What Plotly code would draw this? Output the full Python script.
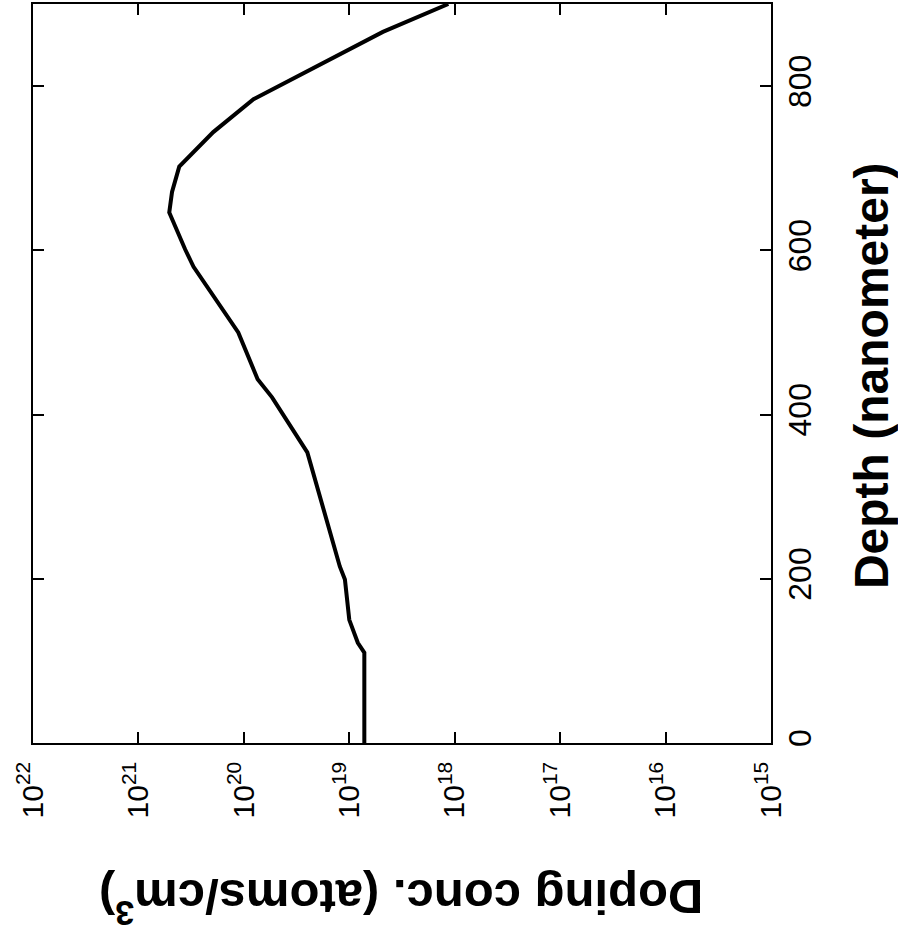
import plotly.graph_objects as go

# Data read from the (rotated) reference chart
depth_nm = [0, 110, 122, 150, 199, 215, 354, 421, 443, 500, 580, 601, 646, 671, 702, 744, 784, 824, 866, 900]
doping_conc = [7.2e18, 7.2e18, 8.3e18, 1.0e19, 1.1e19, 1.23e19, 2.5e19, 5.4e19, 7.4e19, 1.13e20,
               3.0e20, 3.6e20, 5.1e20, 4.8e20, 4.1e20, 1.95e20, 8.1e19, 2.0e19, 4.8e18, 1.15e18]

conc_tick_vals = [1e15, 1e16, 1e17, 1e18, 1e19, 1e20, 1e21, 1e22]
conc_tick_text = ["10<sup>15</sup>", "10<sup>16</sup>", "10<sup>17</sup>", "10<sup>18</sup>",
                  "10<sup>19</sup>", "10<sup>20</sup>", "10<sup>21</sup>", "10<sup>22</sup>"]
depth_tick_vals = [0, 200, 400, 600, 800]
depth_tick_text = ["0", "200", "400", "600", "800"]

FONT = "Liberation Sans, Arial, sans-serif"

fig = go.Figure()
fig.add_trace(go.Scatter(
    x=doping_conc, y=depth_nm, mode="lines",
    line=dict(color="black", width=4),
    showlegend=False,
))

fig.update_layout(
    width=898, height=934,
    margin=dict(l=33, r=127, t=4, b=191, autoexpand=False),
    paper_bgcolor="white", plot_bgcolor="white",
    font=dict(family=FONT, color="black"),
    xaxis=dict(
        type="log", range=[22, 15], autorange=False, automargin=False,
        tickvals=conc_tick_vals, ticktext=conc_tick_text,
        tickangle=-90, tickfont=dict(size=30, family=FONT, color="black"),
        ticklabelstandoff=5,
        ticks="inside", ticklen=11, tickwidth=1.5, tickcolor="black",
        showline=True, linecolor="black", linewidth=1.5, mirror="ticks",
        showgrid=False, zeroline=False,
    ),
    yaxis=dict(
        range=[0, 900], autorange=False, side="right", automargin=False,
        tickvals=depth_tick_vals, ticktext=depth_tick_text,
        tickangle=-90, tickfont=dict(size=32, family=FONT, color="black"),
        ticks="inside", ticklen=11, tickwidth=1.5, tickcolor="black",
        showline=True, linecolor="black", linewidth=1.5, mirror="ticks",
        showgrid=False, zeroline=False,
    ),
    annotations=[
        dict(text="Doping conc. (atoms/cm<sup>3</sup>)", xref="paper", yref="paper",
             x=0.4995, y=-0.2145, xanchor="center", yanchor="middle", textangle=180,
             showarrow=False, font=dict(size=49, family=FONT, color="black", weight="bold")),
        dict(text="Depth (nanometer)", xref="paper", yref="paper",
             x=1.136, y=0.497, xanchor="center", yanchor="middle", textangle=-90,
             showarrow=False, font=dict(size=48, family=FONT, color="black", weight="bold")),
    ],
)

fig.write_html("out.html", config={"displayModeBar": False},
               post_script="document.body.style.margin='0';")
